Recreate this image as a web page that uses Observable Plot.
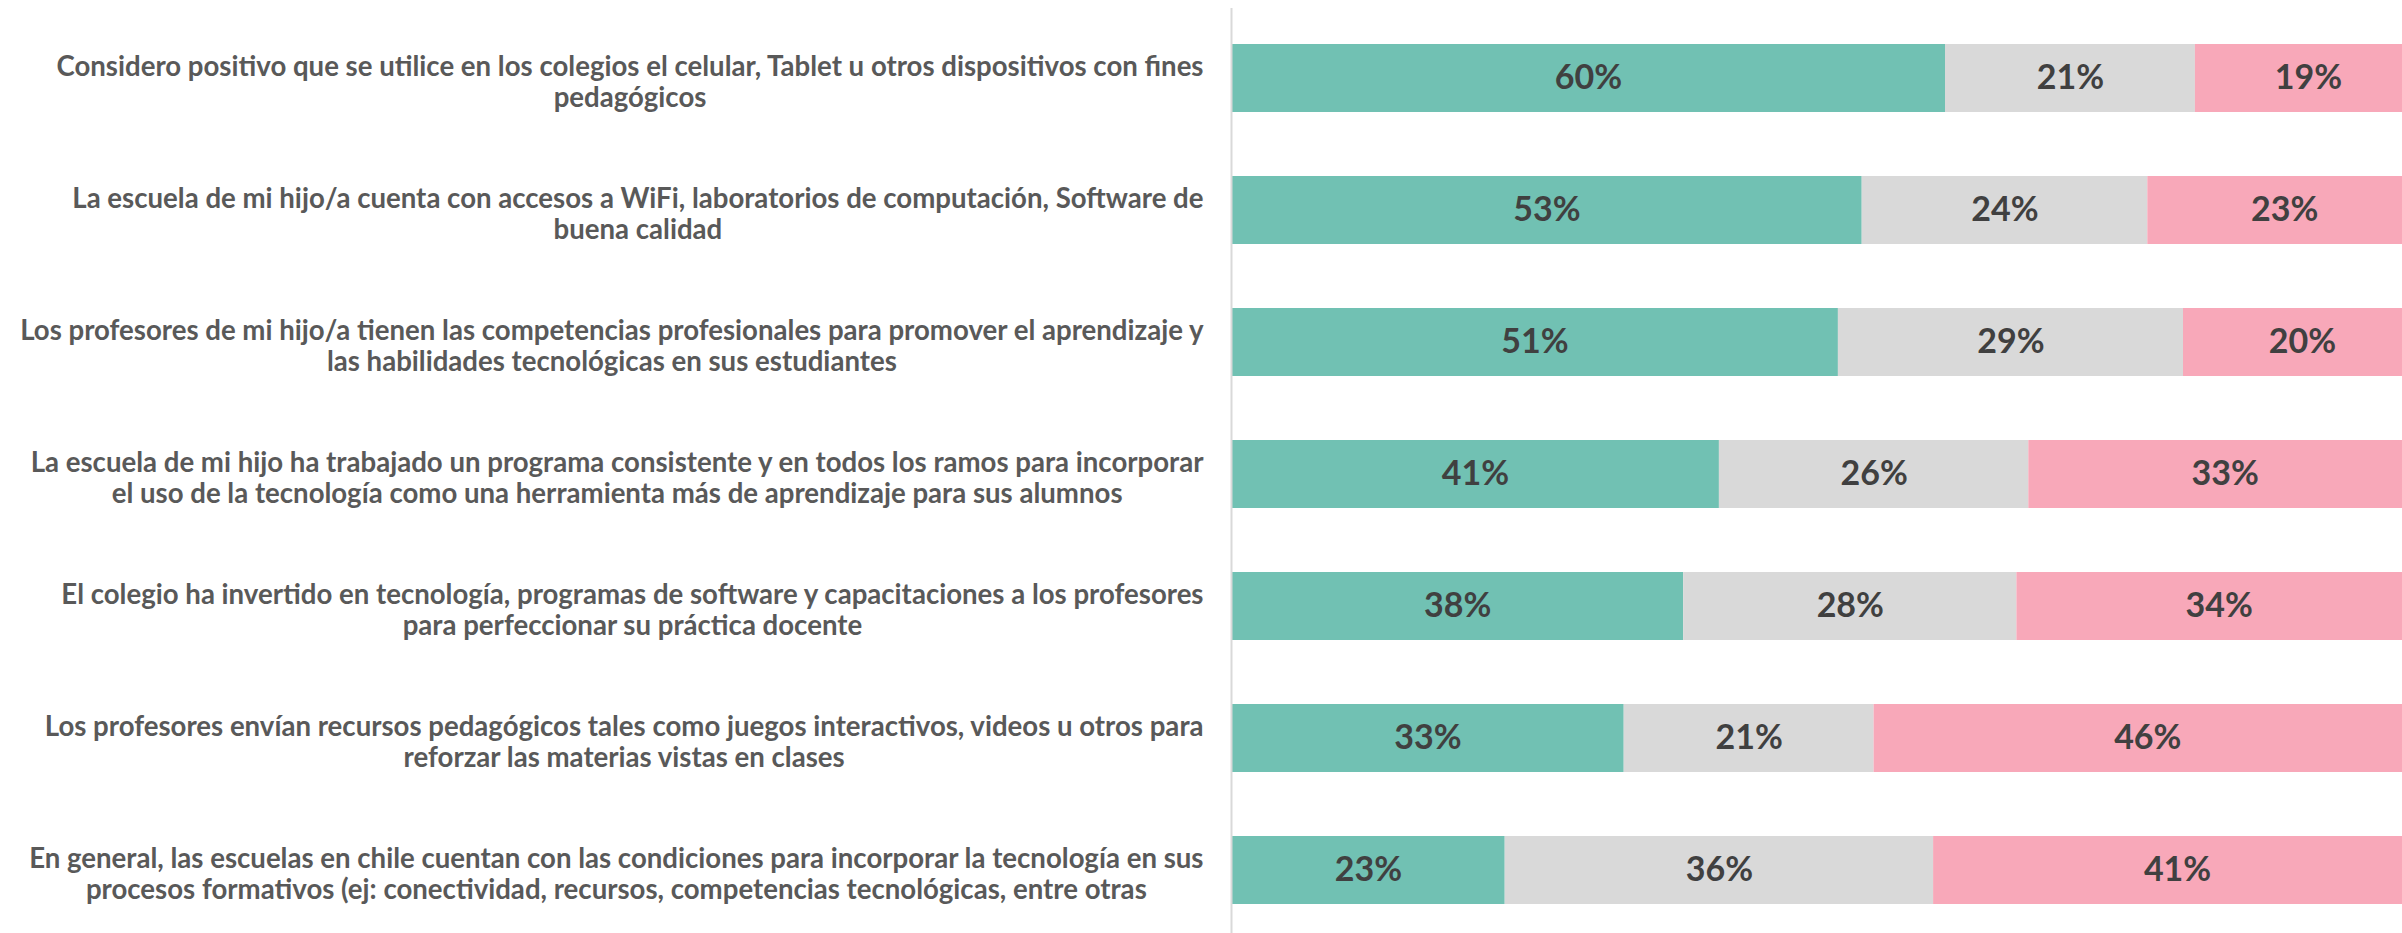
<!DOCTYPE html>
<html>
<head>
<meta charset="utf-8">
<script src="https://cdn.jsdelivr.net/npm/d3@7"></script>
<script src="https://cdn.jsdelivr.net/npm/@observablehq/plot@0.6"></script>
<style>
  html, body { margin: 0; padding: 0; background: #fff; overflow: hidden; }
  #chart svg { display: block; }
</style>
</head>
<body>
<div id="chart"></div>
<script>
const categories = [
  "Considero positivo que se utilice en los colegios el celular, Tablet u otros dispositivos con fines\npedagógicos",
  "La escuela de mi hijo/a cuenta con accesos a WiFi, laboratorios de computación, Software de\nbuena calidad",
  "Los profesores de mi hijo/a tienen las competencias profesionales para promover el aprendizaje y\nlas habilidades tecnológicas en sus estudiantes",
  "La escuela de mi hijo ha trabajado un programa consistente y en todos los ramos para incorporar\nel uso de la tecnología como una herramienta más de aprendizaje para sus alumnos",
  "El colegio ha invertido en tecnología, programas de software y capacitaciones a los profesores\npara perfeccionar su práctica docente",
  "Los profesores envían recursos pedagógicos tales como juegos interactivos, videos u otros para\nreforzar las materias vistas en clases",
  "En general, las escuelas en chile cuentan con las condiciones para incorporar la tecnología en sus\nprocesos formativos (ej: conectividad, recursos, competencias tecnológicas, entre otras"
];
const seriesNames = ["De acuerdo", "Ni de acuerdo ni en desacuerdo", "En desacuerdo"];
const seriesColors = ["#71C1B3", "#D9D9D9", "#F8A8B9"];
const agree    = [60, 53, 51, 41, 38, 33, 23];
const neutral  = [21, 24, 29, 26, 28, 21, 36];
const disagree = [19, 23, 20, 33, 34, 46, 41];

const seriesValues = [agree, neutral, disagree];
const rows = [];
seriesNames.forEach((s, si) => {
  categories.forEach((c, ci) => rows.push({cat: c, series: s, value: seriesValues[si][ci]}));
});

const W = 2402, H = 933;
const chart = Plot.plot({
  width: W,
  height: H,
  marginLeft: 1231,
  marginRight: 0,
  marginTop: 8,
  marginBottom: 0,
  style: {background: "#fff", fontFamily: "Lato, 'Open Sans', sans-serif"},
  x: {domain: [0, 100], range: [1231, 2421], axis: null},
  y: {domain: categories, range: [8.6, 938.4], paddingInner: 0.488, paddingOuter: 0.244, label: null},
  color: {domain: seriesNames, range: seriesColors},
  marks: [
    Plot.barX(rows, Plot.stackX({x: "value", y: "cat", z: "series", fill: "series", clip: true})),
    Plot.text(rows, Plot.stackX({
      x: "value", y: "cat", z: "series",
      text: d => d.value + "%",
      fill: "#404040", fontSize: 34, fontWeight: "bold"
    })),
    Plot.ruleX([0], {stroke: "#D9D9D9", strokeWidth: 2}),
    Plot.axisY({
      tickSize: 0, tickPadding: 28, fontSize: 27.6, fontWeight: "bold",
      fill: "#595959", lineHeight: 1.12, textAnchor: "end", dy: 3
    })
  ]
});
document.getElementById("chart").appendChild(chart);

// Center the second line of each category label under the first line,
// with the first line right-aligned against the axis.
chart.querySelectorAll("g[aria-label='y-axis tick label'] text").forEach(t => {
  const spans = t.querySelectorAll("tspan");
  if (!spans.length) return;
  const w1 = spans[0].getComputedTextLength();
  t.setAttribute("text-anchor", "middle");
  spans.forEach(s => s.setAttribute("x", -w1 / 2));
});
</script>
</body>
</html>
